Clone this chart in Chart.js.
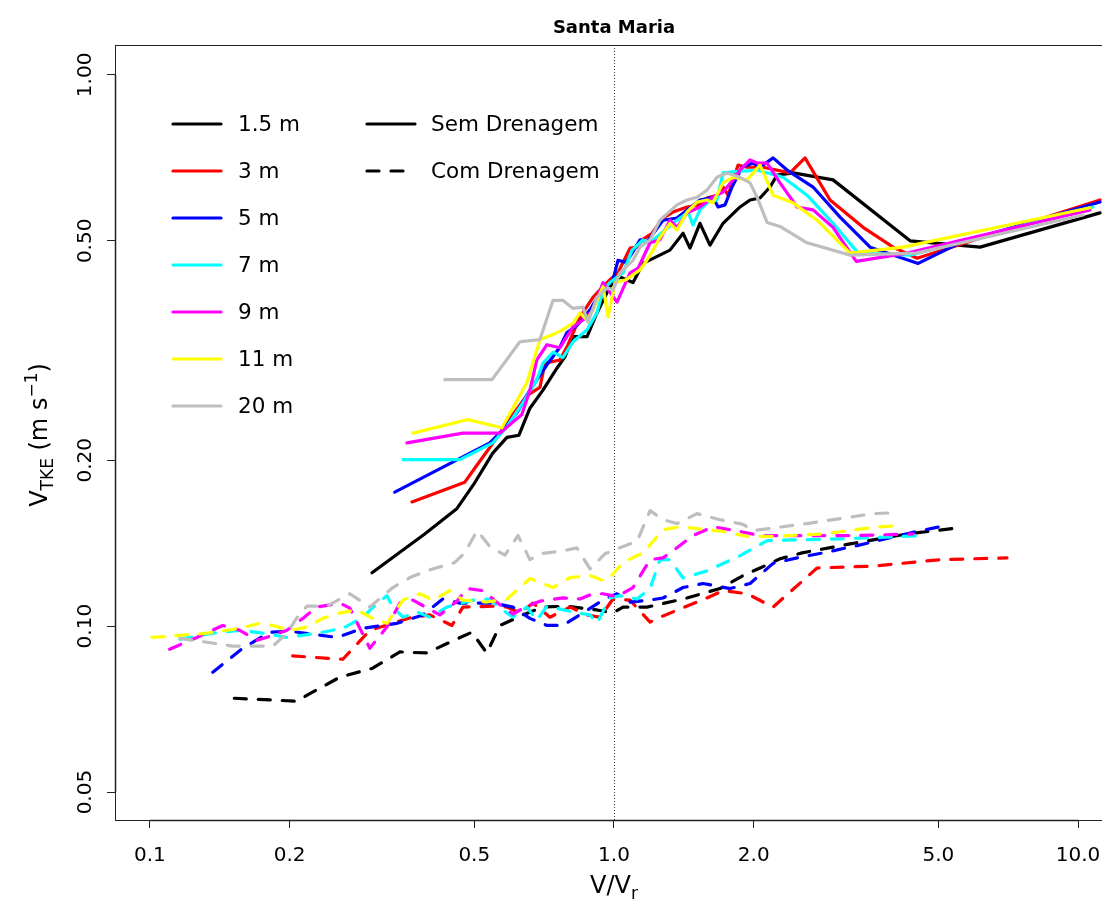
<!DOCTYPE html>
<html>
<head>
<meta charset="utf-8">
<script src="https://cdn.jsdelivr.net/npm/chart.js@4.4.0/dist/chart.umd.min.js"></script>
<style>
html, body { margin: 0; padding: 0; background: #fff; }
</style>
</head>
<body>
<canvas id="myChart" width="1102" height="902"></canvas>
<script>
// V/Vr (x) and V_TKE (y), one pair per height; "Sem Drenagem" = solid, "Com Drenagem" = dashed
const X_SEM_15 = [0.301, 0.391, 0.459, 0.501, 0.548, 0.588, 0.624, 0.659, 0.703, 0.754, 0.784, 0.816, 0.875, 0.919, 0.980, 1.030, 1.099, 1.155, 1.320, 1.409, 1.458, 1.532, 1.610, 1.718, 1.869, 1.964, 2.064, 2.169, 2.246, 2.431, 2.965, 4.345, 6.150, 11.15];
const Y_SEM_15 = [0.125, 0.147, 0.1635, 0.182, 0.206, 0.220, 0.222, 0.2485, 0.268, 0.294, 0.308, 0.335, 0.335, 0.370, 0.413, 0.430, 0.420, 0.455, 0.481, 0.516, 0.485, 0.538, 0.491, 0.538, 0.576, 0.593, 0.598, 0.626, 0.658, 0.664, 0.645, 0.500, 0.487, 0.562];
const X_SEM_3 = [0.367, 0.477, 0.507, 0.560, 0.588, 0.649, 0.6925, 0.710, 0.765, 0.796, 0.845, 0.901, 0.942, 0.980, 1.020, 1.083, 1.121, 1.149, 1.208, 1.275, 1.340, 1.437, 1.532, 1.586, 1.667, 1.718, 1.761, 1.851, 1.935, 2.095, 2.395, 2.580, 2.921, 3.441, 3.994, 4.499, 11.15];
const Y_SEM_3 = [0.168, 0.1825, 0.196, 0.220, 0.234, 0.262, 0.271, 0.300, 0.304, 0.324, 0.364, 0.395, 0.411, 0.425, 0.4375, 0.485, 0.487, 0.502, 0.516, 0.550, 0.564, 0.576, 0.581, 0.598, 0.605, 0.626, 0.605, 0.686, 0.680, 0.680, 0.664, 0.707, 0.593, 0.529, 0.487, 0.465, 0.593];
const X_SEM_5 = [0.337, 0.540, 0.576, 0.618, 0.659, 0.717, 0.765, 0.792, 0.832, 0.888, 0.933, 0.995, 1.020, 1.061, 1.094, 1.138, 1.178, 1.208, 1.275, 1.367, 1.532, 1.634, 1.676, 1.735, 1.796, 1.888, 1.993, 2.064, 2.202, 2.360, 2.685, 3.070, 3.563, 4.523, 5.569, 11.15];
const Y_SEM_5 = [0.175, 0.215, 0.227, 0.244, 0.268, 0.298, 0.321, 0.341, 0.351, 0.375, 0.402, 0.425, 0.461, 0.457, 0.475, 0.502, 0.498, 0.512, 0.545, 0.550, 0.593, 0.600, 0.576, 0.581, 0.626, 0.680, 0.692, 0.680, 0.707, 0.672, 0.626, 0.552, 0.487, 0.455, 0.496, 0.588];
const X_SEM_7 = [0.351, 0.4655, 0.548, 0.588, 0.636, 0.682, 0.703, 0.739, 0.776, 0.816, 0.875, 0.919, 0.947, 0.980, 1.046, 1.094, 1.155, 1.196, 1.340, 1.445, 1.480, 1.532, 1.595, 1.667, 1.718, 1.805, 2.034, 2.313, 2.606, 2.965, 3.358, 4.345, 10.77];
const Y_SEM_7 = [0.2005, 0.2005, 0.215, 0.230, 0.254, 0.280, 0.300, 0.314, 0.307, 0.328, 0.345, 0.370, 0.407, 0.420, 0.4375, 0.481, 0.502, 0.496, 0.538, 0.564, 0.534, 0.569, 0.588, 0.593, 0.664, 0.667, 0.672, 0.652, 0.605, 0.538, 0.475, 0.471, 0.576];
const X_SEM_9 = [0.358, 0.4725, 0.568, 0.633, 0.659, 0.682, 0.717, 0.765, 0.816, 0.875, 0.901, 0.947, 1.015, 1.083, 1.127, 1.196, 1.256, 1.320, 1.367, 1.437, 1.532, 1.634, 1.718, 1.805, 1.869, 1.964, 2.034, 2.137, 2.279, 2.480, 2.685, 2.965, 3.326, 4.282, 10.61];
const Y_SEM_9 = [0.215, 0.224, 0.224, 0.242, 0.268, 0.304, 0.324, 0.320, 0.349, 0.364, 0.375, 0.420, 0.387, 0.4375, 0.446, 0.496, 0.502, 0.545, 0.529, 0.562, 0.576, 0.600, 0.613, 0.645, 0.672, 0.701, 0.692, 0.692, 0.637, 0.576, 0.569, 0.529, 0.459, 0.475, 0.569];
const X_SEM_11 = [0.369, 0.4846, 0.5735, 0.649, 0.6925, 0.739, 0.776, 0.816, 0.845, 0.875, 0.901, 0.947, 0.971, 1.005, 1.061, 1.138, 1.178, 1.214, 1.256, 1.320, 1.367, 1.437, 1.510, 1.586, 1.634, 1.718, 1.805, 1.935, 2.064, 2.202, 2.431, 2.739, 3.226, 4.197, 10.61];
const Y_SEM_11 = [0.224, 0.237, 0.229, 0.2765, 0.331, 0.338, 0.345, 0.3545, 0.370, 0.359, 0.375, 0.413, 0.364, 0.420, 0.425, 0.443, 0.461, 0.481, 0.507, 0.538, 0.523, 0.564, 0.588, 0.593, 0.586, 0.637, 0.652, 0.645, 0.686, 0.605, 0.586, 0.545, 0.475, 0.487, 0.574];
const X_SEM_20 = [0.432, 0.546, 0.627, 0.6925, 0.739, 0.776, 0.816, 0.857, 0.879, 0.919, 0.966, 0.995, 1.030, 1.061, 1.099, 1.138, 1.196, 1.256, 1.367, 1.437, 1.510, 1.586, 1.667, 1.752, 1.869, 1.964, 2.034, 2.137, 2.279, 2.606, 3.226, 4.48, 10.25];
const Y_SEM_20 = [0.280, 0.280, 0.328, 0.331, 0.390, 0.390, 0.377, 0.379, 0.356, 0.395, 0.411, 0.407, 0.4375, 0.448, 0.461, 0.487, 0.502, 0.545, 0.581, 0.593, 0.600, 0.618, 0.652, 0.664, 0.652, 0.637, 0.600, 0.540, 0.531, 0.496, 0.471, 0.475, 0.557];

const X_COM_15 = [0.152, 0.207, 0.224, 0.2566, 0.302, 0.3456, 0.395, 0.443, 0.494, 0.532, 0.568, 0.636, 0.703, 0.792, 0.919, 0.995, 1.046, 1.178, 1.409, 1.692, 1.897, 2.064, 2.279, 2.542, 3.226, 4.282, 5.625];
const Y_COM_15 = [0.0740, 0.0731, 0.0759, 0.0808, 0.0839, 0.0898, 0.0894, 0.0935, 0.0975, 0.0894, 0.1003, 0.1048, 0.1083, 0.1087, 0.107, 0.1057, 0.1083, 0.1083, 0.112, 0.117, 0.1235, 0.1275, 0.1325, 0.1358, 0.141, 0.147, 0.151];
const X_COM_3 = [0.203, 0.2605, 0.298, 0.363, 0.401, 0.4475, 0.4725, 0.548, 0.588, 0.627, 0.669, 0.7277, 0.8037, 0.875, 0.933, 0.995, 1.083, 1.196, 1.256, 1.586, 1.718, 1.935, 2.202, 2.739, 3.617, 5.043, 7.03];
const Y_COM_3 = [0.0883, 0.0871, 0.0983, 0.1035, 0.1048, 0.1003, 0.1083, 0.1087, 0.1083, 0.1057, 0.1101, 0.1038, 0.1083, 0.1048, 0.1038, 0.112, 0.1115, 0.1017, 0.1038, 0.1125, 0.116, 0.1145, 0.1083, 0.1275, 0.1285, 0.132, 0.133];
const X_COM_5 = [0.1366, 0.1585, 0.1813, 0.2002, 0.2529, 0.2877, 0.3406, 0.3874, 0.4278, 0.4655, 0.548, 0.6057, 0.659, 0.717, 0.776, 0.857, 0.947, 1.015, 1.083, 1.196, 1.275, 1.409, 1.555, 1.778, 1.964, 2.202, 2.480, 2.822, 3.341, 4.41, 5.043];
const Y_COM_5 = [0.0825, 0.0912, 0.0975, 0.0979, 0.0954, 0.0991, 0.1012, 0.1048, 0.112, 0.1101, 0.1101, 0.1083, 0.1033, 0.1003, 0.1003, 0.1057, 0.1115, 0.1145, 0.1106, 0.1115, 0.1125, 0.1175, 0.1195, 0.117, 0.1195, 0.130, 0.133, 0.1358, 0.140, 0.148, 0.1515];
const X_COM_7 = [0.116, 0.1366, 0.1562, 0.1751, 0.1973, 0.229, 0.2605, 0.2877, 0.301, 0.324, 0.3338, 0.351, 0.376, 0.401, 0.4365, 0.4965, 0.540, 0.568, 0.6057, 0.649, 0.682, 0.717, 0.816, 0.888, 0.919, 0.980, 1.030, 1.121, 1.196, 1.256, 1.320, 1.409, 1.586, 1.869, 2.137, 3.070, 4.705];
const Y_COM_7 = [0.0947, 0.0971, 0.0983, 0.0971, 0.0954, 0.0971, 0.0991, 0.1038, 0.1078, 0.1136, 0.1083, 0.1038, 0.1061, 0.1038, 0.1083, 0.1115, 0.112, 0.1078, 0.1038, 0.1083, 0.1025, 0.1087, 0.1061, 0.1048, 0.1012, 0.1125, 0.1136, 0.112, 0.117, 0.132, 0.132, 0.1223, 0.126, 0.1342, 0.143, 0.144, 0.146];
const X_COM_9 = [0.1103, 0.1262, 0.1435, 0.1562, 0.170, 0.184, 0.1973, 0.2136, 0.229, 0.2566, 0.2697, 0.2978, 0.324, 0.3456, 0.3687, 0.4215, 0.4587, 0.482, 0.5218, 0.576, 0.6057, 0.649, 0.6925, 0.776, 0.845, 0.901, 0.947, 1.015, 1.099, 1.196, 1.275, 1.340, 1.480, 1.634, 1.869, 2.064, 3.341, 4.41];
const Y_COM_9 = [0.0908, 0.0954, 0.1003, 0.0983, 0.0943, 0.0962, 0.0983, 0.1033, 0.1083, 0.1101, 0.1078, 0.0912, 0.0996, 0.1101, 0.1115, 0.1048, 0.111, 0.117, 0.116, 0.1083, 0.1052, 0.1087, 0.111, 0.1125, 0.112, 0.1145, 0.1145, 0.1131, 0.1175, 0.132, 0.133, 0.137, 0.146, 0.1515, 0.1485, 0.146, 0.146, 0.147];
const X_COM_11 = [0.101, 0.116, 0.1327, 0.1562, 0.1725, 0.184, 0.2002, 0.2179, 0.2358, 0.2566, 0.2793, 0.302, 0.324, 0.351, 0.3817, 0.407, 0.443, 0.4725, 0.532, 0.588, 0.659, 0.739, 0.8037, 0.888, 0.947, 0.980, 1.046, 1.155, 1.275, 1.388, 1.718, 1.935, 2.202, 2.822, 3.617, 4.197];
const Y_COM_11 = [0.0954, 0.0962, 0.0971, 0.0991, 0.1012, 0.1003, 0.0983, 0.0996, 0.1033, 0.1057, 0.107, 0.1033, 0.1012, 0.1115, 0.1145, 0.1115, 0.116, 0.1115, 0.1106, 0.112, 0.122, 0.1175, 0.1225, 0.1235, 0.121, 0.1225, 0.1305, 0.1358, 0.1495, 0.1515, 0.1485, 0.1455, 0.1455, 0.147, 0.151, 0.1525];
const X_COM_20 = [0.116, 0.1327, 0.1508, 0.184, 0.1973, 0.207, 0.2179, 0.2405, 0.2697, 0.2978, 0.3338, 0.3632, 0.395, 0.454, 0.477, 0.507, 0.540, 0.582, 0.621, 0.659, 0.6925, 0.776, 0.832, 0.888, 0.956, 1.046, 1.121, 1.196, 1.275, 1.367, 1.510, 1.692, 1.897, 1.993, 2.606, 3.617, 3.935];
const Y_COM_20 = [0.095, 0.0935, 0.0920, 0.0920, 0.0971, 0.1033, 0.1087, 0.1087, 0.1145, 0.1083, 0.1175, 0.1225, 0.126, 0.1305, 0.1358, 0.149, 0.1395, 0.1345, 0.146, 0.132, 0.1353, 0.137, 0.1387, 0.127, 0.1353, 0.1395, 0.1425, 0.162, 0.156, 0.1535, 0.160, 0.156, 0.153, 0.149, 0.1535, 0.160, 0.1605];

const HEIGHTS = ['1.5 m', '3 m', '5 m', '7 m', '9 m', '11 m', '20 m'];
const COLORS = ['#000000', '#ff0000', '#0000ff', '#00ffff', '#ff00ff', '#ffff00', '#bebebe'];
const X_TICKS = [0.1, 0.2, 0.5, 1, 2, 5, 10];
const X_TICK_LABELS = ['0.1', '0.2', '0.5', '1.0', '2.0', '5.0', '10.0'];
const Y_TICKS = [0.05, 0.1, 0.2, 0.5, 1];
const Y_TICK_LABELS = ['0.05', '0.10', '0.20', '0.50', '1.00'];

const SEM_X = [X_SEM_15, X_SEM_3, X_SEM_5, X_SEM_7, X_SEM_9, X_SEM_11, X_SEM_20];
const SEM_Y = [Y_SEM_15, Y_SEM_3, Y_SEM_5, Y_SEM_7, Y_SEM_9, Y_SEM_11, Y_SEM_20];
const COM_X = [X_COM_15, X_COM_3, X_COM_5, X_COM_7, X_COM_9, X_COM_11, X_COM_20];
const COM_Y = [Y_COM_15, Y_COM_3, Y_COM_5, Y_COM_7, Y_COM_9, Y_COM_11, Y_COM_20];

const FONT = "'DejaVu Sans', 'Liberation Sans', sans-serif";

function toPoints(xs, ys) {
    return xs.map((x, i) => ({ x: x, y: ys[i] }));
}

const datasets = [];
HEIGHTS.forEach((h, i) => {
    datasets.push({
        label: h + ' sem',
        data: toPoints(SEM_X[i], SEM_Y[i]),
        borderColor: COLORS[i],
        borderWidth: 3.2,
        borderCapStyle: 'round',
        borderJoinStyle: 'round',
        order: 20 - i
    });
});
HEIGHTS.forEach((h, i) => {
    datasets.push({
        label: h + ' com',
        data: toPoints(COM_X[i], COM_Y[i]),
        borderColor: COLORS[i],
        borderWidth: 3.2,
        borderDash: [12, 12],
        borderCapStyle: 'round',
        borderJoinStyle: 'round',
        order: 10 - i
    });
});

// box, dotted line at V/Vr = 1, titles and legend
const decor = {
    id: 'decor',
    beforeDatasetsDraw(chart) {
        const { ctx, chartArea: a, scales: { x } } = chart;
        const px = Math.round(x.getPixelForValue(1)) + 0.5;
        ctx.save();
        ctx.strokeStyle = '#333';
        ctx.lineWidth = 1;
        ctx.setLineDash([1, 2]);
        ctx.beginPath();
        ctx.moveTo(px, a.top);
        ctx.lineTo(px, a.bottom);
        ctx.stroke();
        ctx.restore();
    },
    afterDraw(chart) {
        const { ctx, chartArea: a, scales: { x, y } } = chart;
        ctx.save();
        ctx.strokeStyle = '#222';
        ctx.lineWidth = 1;
        ctx.strokeRect(a.left + 0.5, a.top + 0.5, a.right - a.left + 4, a.bottom - a.top);

        // axis lines between first and last tick
        ctx.lineWidth = 1.5;
        ctx.beginPath();
        ctx.moveTo(x.getPixelForValue(0.1), a.bottom + 0.5);
        ctx.lineTo(x.getPixelForValue(10), a.bottom + 0.5);
        ctx.moveTo(a.left + 0.5, y.getPixelForValue(0.05));
        ctx.lineTo(a.left + 0.5, y.getPixelForValue(1));
        ctx.stroke();

        ctx.fillStyle = '#000';
        // y tick labels, rotated
        ctx.font = '20px ' + FONT;
        ctx.textAlign = 'center';
        ctx.textBaseline = 'middle';
        Y_TICKS.forEach((v, i) => {
            ctx.save();
            ctx.translate(86, y.getPixelForValue(v));
            ctx.rotate(-Math.PI / 2);
            ctx.fillText(Y_TICK_LABELS[i], 0, 0);
            ctx.restore();
        });

        // title
        ctx.font = 'bold 18px ' + FONT;
        ctx.textBaseline = 'alphabetic';
        ctx.fillText('Santa Maria', x.getPixelForValue(1), 33);

        // x axis title V/Vr
        drawRich(ctx, [
            { t: 'V/V', s: 24, dy: 0 },
            { t: 'r', s: 17, dy: 6 }
        ], x.getPixelForValue(1), 893);

        // y axis title V_TKE (m s^-1)
        ctx.save();
        ctx.translate(47, 435);
        ctx.rotate(-Math.PI / 2);
        drawRich(ctx, [
            { t: 'V', s: 24, dy: 0 },
            { t: 'TKE', s: 17, dy: 6 },
            { t: ' (m s', s: 24, dy: 0 },
            { t: '\u22121', s: 17, dy: -10 },
            { t: ')', s: 24, dy: 0 }
        ], 0, 0);
        ctx.restore();

        // legend
        const rows = [124, 171, 218, 265, 312, 359, 406];
        ctx.font = '21.5px ' + FONT;
        ctx.textAlign = 'left';
        ctx.textBaseline = 'middle';
        ctx.lineWidth = 3.2;
        ctx.lineCap = 'round';
        HEIGHTS.forEach((h, i) => {
            ctx.strokeStyle = COLORS[i];
            ctx.setLineDash([]);
            ctx.beginPath();
            ctx.moveTo(173, rows[i]);
            ctx.lineTo(221, rows[i]);
            ctx.stroke();
            ctx.fillText(h, 238, rows[i] + 1);
        });
        ctx.strokeStyle = '#000';
        ctx.beginPath();
        ctx.moveTo(367, rows[0]);
        ctx.lineTo(415, rows[0]);
        ctx.stroke();
        ctx.setLineDash([12, 12]);
        ctx.beginPath();
        ctx.moveTo(367, rows[1]);
        ctx.lineTo(415, rows[1]);
        ctx.stroke();
        ctx.fillText('Sem Drenagem', 431, rows[0] + 1);
        ctx.fillText('Com Drenagem', 431, rows[1] + 1);
        ctx.restore();
    }
};

function drawRich(ctx, parts, cx, baseY) {
    let w = 0;
    parts.forEach(p => {
        ctx.font = p.s + 'px ' + FONT;
        p.w = ctx.measureText(p.t).width;
        w += p.w;
    });
    let cur = cx - w / 2;
    ctx.textAlign = 'left';
    ctx.textBaseline = 'alphabetic';
    parts.forEach(p => {
        ctx.font = p.s + 'px ' + FONT;
        ctx.fillText(p.t, cur, baseY + p.dy);
        cur += p.w;
    });
}

const config = {
    type: 'scatter',
    data: { datasets: datasets },
    options: {
        responsive: false,
        animation: false,
        devicePixelRatio: 1,
        showLine: true,
        elements: {
            point: { radius: 0, hoverRadius: 0 },
            line: { tension: 0, fill: false }
        },
        layout: { padding: { top: 45, left: 0, right: 0, bottom: 0 } },
        plugins: {
            legend: { display: false },
            title: { display: false },
            tooltip: { enabled: false }
        },
        scales: {
            x: {
                type: 'logarithmic',
                min: 0.0841,
                max: 11.26,
                afterBuildTicks: s => { s.ticks = X_TICKS.map(v => ({ value: v })); },
                afterFit: s => {
                    s.height = 82;
                    s.paddingLeft = 0;
                    s.paddingRight = 0;
                },
                border: { display: false },
                grid: { drawOnChartArea: false, drawTicks: true, tickLength: 8, color: '#222', lineWidth: 1 },
                ticks: {
                    autoSkip: false,
                    maxRotation: 0,
                    minRotation: 0,
                    padding: 16,
                    color: '#000',
                    font: { family: FONT, size: 20 },
                    callback: (v, i) => X_TICK_LABELS[i]
                }
            },
            y: {
                type: 'logarithmic',
                min: 0.0445,
                max: 1.133,
                afterBuildTicks: s => { s.ticks = Y_TICKS.map(v => ({ value: v })); },
                afterFit: s => {
                    s.width = 115;
                    s.paddingTop = 0;
                    s.paddingBottom = 0;
                },
                border: { display: false },
                grid: { drawOnChartArea: false, drawTicks: true, tickLength: 8, color: '#222', lineWidth: 1 },
                ticks: { display: false }
            }
        }
    },
    plugins: [decor]
};

const myChart = new Chart(document.getElementById('myChart'), config);
</script>
</body>
</html>
